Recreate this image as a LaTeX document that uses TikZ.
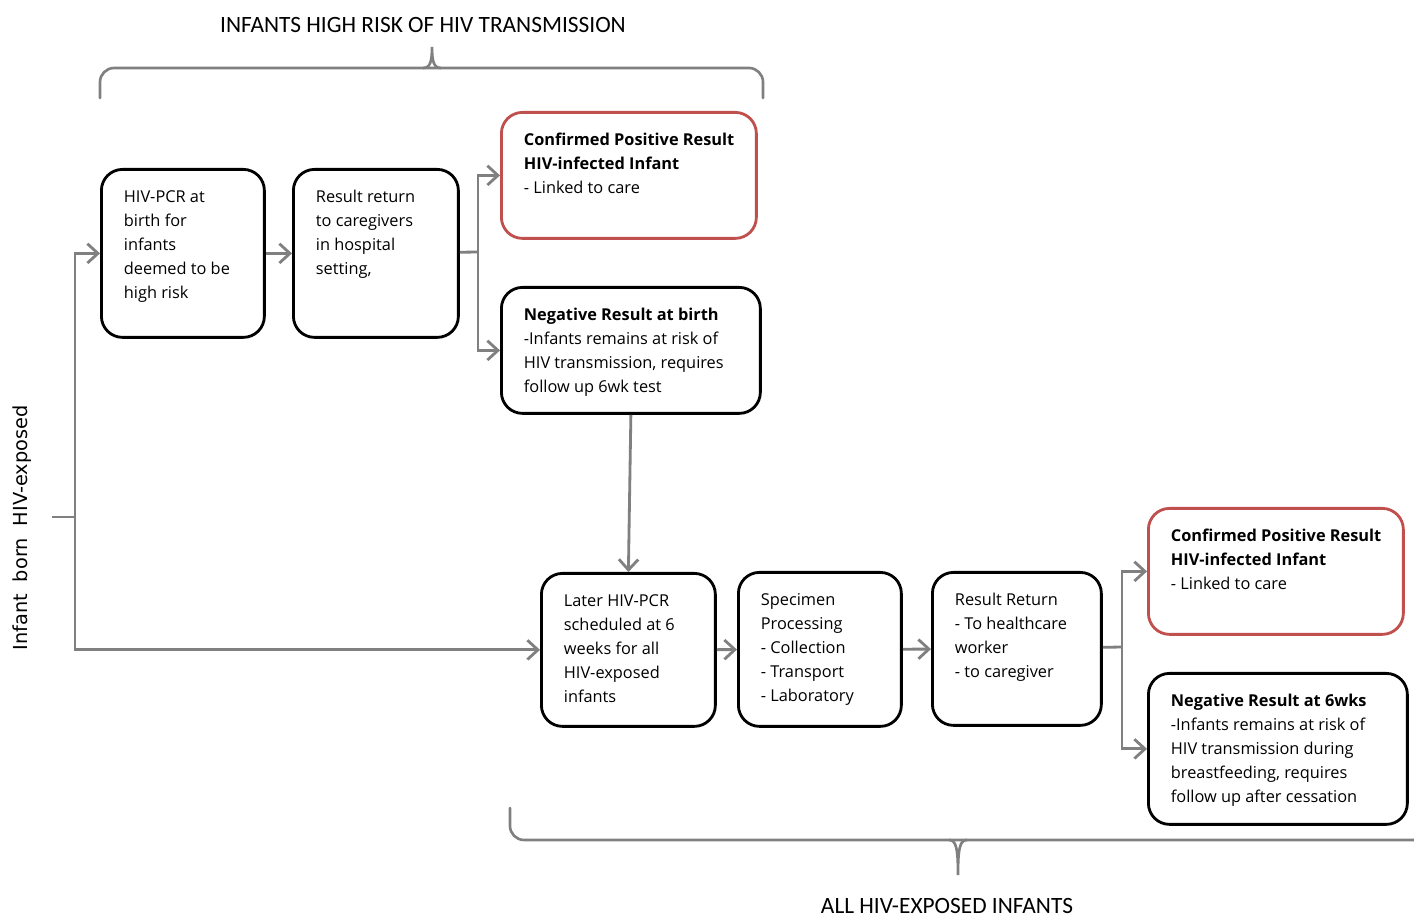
\documentclass[tikz,border=0pt]{standalone}
\usepackage{fontspec}
\setmainfont{Open Sans}
\newfontfamily\capfont{Carlito}
\newfontfamily\sidefont{DejaVu Sans}
\usetikzlibrary{arrows.meta}
\definecolor{linkgray}{RGB}{128,128,128}
\definecolor{posred}{RGB}{192,80,77}
\newcommand{\stagetext}[3]{\parbox[c][#2][t]{#1}{\begin{tabular}[t]{@{}l@{}}#3\end{tabular}}}

\tikzset{
  stage/.style={draw=black, line width=1.6pt, rounded corners=12pt, anchor=north west,
    inner xsep=0.45cm, inner ysep=0.33cm, font=\fontsize{9.3}{13.6}\selectfont},
  positive/.style={stage, draw=posred},
  link/.style={draw=linkgray, line width=1.6pt},
  tip/.style={link, -{Straight Barb[length=6pt,width=11pt]}},
  brace/.style={draw=linkgray, line width=1.5pt, line cap=round},
  caption/.style={font=\capfont\fontsize{13.3}{16}\selectfont}
}

\begin{document}
\begin{tikzpicture}[x=0.02cm,y=-0.02cm]
\useasboundingbox (0,0) rectangle (1414,918);

% group captions and braces
\node[caption] (hightitle) at (423,25) {INFANTS HIGH RISK OF HIV TRANSMISSION};
\node[caption] (alltitle) at (947,906) {ALL HIV-EXPOSED INFANTS};
\draw[brace, rounded corners=8] (100,98) |- (432,68) -| (763,98);
\draw[brace] (423,68) .. controls (430,68) and (432,62) .. (432,47)
  .. controls (432,62) and (434,68) .. (441,68);
\draw[brace, rounded corners=8] (510,808) |- (1414,840);
\draw[brace] (949,840) .. controls (956,840) and (958,848) .. (958,875)
  .. controls (958,848) and (960,840) .. (967,840);

\node[font=\sidefont\fontsize{11}{14}\selectfont, rotate=90] (exposed) at (22,528)
  {Infant\hspace{0.3em} born\hspace{0.3em} HIV-exposed};

% birth testing
\node[stage] (hivpcr) at (100,168) {\stagetext{2.36cm}{2.70cm}{HIV-PCR at\\ birth for\\ infants\\ deemed to be\\ high risk}};
\node[stage] (ret) at (292,168) {\stagetext{2.40cm}{2.70cm}{Result return\\ to caregivers\\ in hospital\\ setting,}};
\node[positive] (pos1) at (500,111) {\stagetext{4.20cm}{1.86cm}{\textbf{Confirmed Positive Result}\\ \textbf{HIV-infected Infant}\\ - Linked to care}};
\node[stage] (neg1) at (500,286) {\stagetext{4.28cm}{1.86cm}{\textbf{Negative Result at birth}\\ -Infants remains at risk of\\ HIV transmission, requires\\ follow up 6wk test}};

% 6 week testing
\node[stage] (later) at (540,572) {\stagetext{2.58cm}{2.40cm}{Later HIV-PCR\\ scheduled at 6\\ weeks for all\\ HIV-exposed\\ infants}};
\node[stage] (spec) at (737,571) {\stagetext{2.36cm}{2.42cm}{Specimen\\ Processing\\ - Collection\\ - Transport\\ - Laboratory}};
\node[stage] (res) at (931,571) {\stagetext{2.48cm}{2.40cm}{Result Return\\ - To healthcare\\ worker\\ - to caregiver}};
\node[positive] (pos2) at (1147,507) {\stagetext{4.20cm}{1.86cm}{\textbf{Confirmed Positive Result}\\ \textbf{HIV-infected Infant}\\ - Linked to care}};
\node[stage] (neg2) at (1147,672) {\stagetext{4.28cm}{2.36cm}{\textbf{Negative Result at 6wks}\\ -Infants remains at risk of\\ HIV transmission during\\ breastfeeding, requires\\ follow up after cessation}};

% connectors
\coordinate (origin) at (52,517);
\coordinate (split) at (75,517);
\coordinate (fork1) at (478,252);
\coordinate (fork2) at (1122,647);

\draw[link] (origin) -- (split);
\draw[tip] (split) |- (hivpcr.west);
\draw[tip] (split) |- (later.west);
\draw[tip] (hivpcr) -- (ret);
\draw[link] (ret) -- (fork1);
\draw[tip] (fork1) |- (pos1.west);
\draw[tip] (fork1) |- (neg1.west);
\draw[tip] (neg1.south) -- (later.north);
\draw[tip] (later) -- (spec);
\draw[tip] (spec) -- (res);
\draw[link] (res) -- (fork2);
\draw[tip] (fork2) |- (pos2.west);
\draw[tip] (fork2) |- (neg2.west);
\end{tikzpicture}
\end{document}
